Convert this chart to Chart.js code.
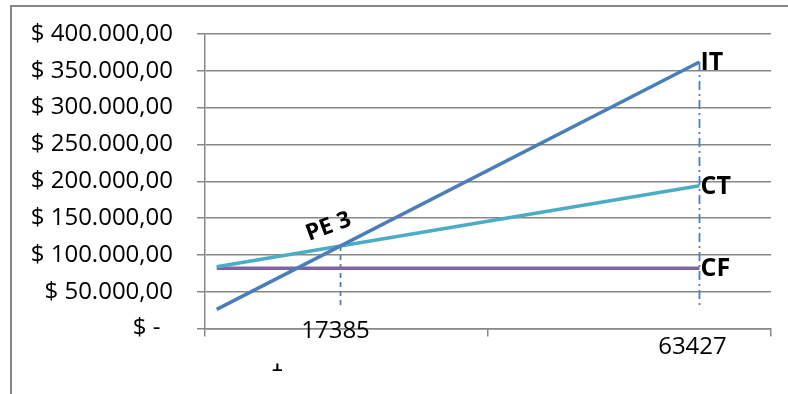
<!DOCTYPE html>
<html>
<head>
<meta charset="utf-8">
<script src="https://cdn.jsdelivr.net/npm/chart.js@4.4.1/dist/chart.umd.min.js"></script>
<style>
  html, body { margin: 0; padding: 0; background: #fff; }
  canvas { display: block; }
</style>
</head>
<body>
<canvas id="chart" width="788" height="394"></canvas>
<script>
// units sold (x) and money (y)
var units = [1500, 63427];
var ingresoTotal = [26000, 362000];   // IT
var costoTotal = [84000, 194000];     // CT
var costoFijo = [82000, 82000];       // CF
var seriesNames = ['IT', 'CT', 'CF'];
var seriesColors = ['#4a7ebb', '#4bacc6', '#8064a2'];

var breakEven = 17385;
var breakEvenValue = 112200;
var breakEvenLabel = 'PE 3';
var xMarks = [17385, 63427];
var dropTops = [112200, 362000];
var dropBottoms = [30000, 29000];
var xAxisTicks = [0, 36300, 72600];

var gray = '#878787';
var font = '"Open Sans", sans-serif';

function money(v) {
    if (v === 0) {
        return '$ -  ';
    }
    return '$ ' + String(v).replace(/\B(?=(\d{3})+(?!\d))/g, '.') + ',00';
}

function pts(xs, ys) {
    return xs.map(function(x, i) {
        return { x: x, y: ys[i] };
    });
}

var seriesData = [ingresoTotal, costoTotal, costoFijo];

var datasets = seriesData.map(function(values, i) {
    return {
        label: seriesNames[i],
        data: pts(units, values),
        borderColor: seriesColors[i],
        borderWidth: 3.5,
        pointRadius: 0,
        tension: 0,
        order: 1
    };
});

// vertical drop lines
datasets.push({
    label: 'pe',
    data: pts([xMarks[0], xMarks[0]], [dropTops[0], dropBottoms[0]]),
    borderColor: '#4a7ebb',
    borderWidth: 1.8,
    borderDash: [5, 4],
    pointRadius: 0,
    order: 2
});
datasets.push({
    label: 'max',
    data: pts([xMarks[1], xMarks[1]], [dropTops[1], dropBottoms[1]]),
    borderColor: '#4a7ebb',
    borderWidth: 1.8,
    borderDash: [9, 4, 2, 4],
    pointRadius: 0,
    order: 2
});

var labelsPlugin = {
    id: 'labels',
    beforeDraw: function(chart) {
        var ctx = chart.ctx;
        ctx.save();
        ctx.strokeStyle = gray;
        ctx.lineWidth = 2;
        ctx.beginPath();
        ctx.moveTo(11, chart.height);
        ctx.lineTo(11, 6);
        ctx.lineTo(chart.width, 6);
        ctx.stroke();
        ctx.restore();
    },
    afterDatasetsDraw: function(chart) {
        var ctx = chart.ctx;
        var xs = chart.scales.x;
        var ys = chart.scales.y;
        ctx.save();
        ctx.fillStyle = '#000';

        // series names at the end of each line
        ctx.font = 'bold 25px ' + font;
        ctx.textAlign = 'left';
        ctx.textBaseline = 'middle';
        seriesData.forEach(function(values, i) {
            var last = values.length - 1;
            ctx.fillText(seriesNames[i], xs.getPixelForValue(units[last]) + 1,
                ys.getPixelForValue(values[last]) + 1);
        });

        // break-even label, tilted
        ctx.save();
        ctx.translate(xs.getPixelForValue(breakEven) - 12, ys.getPixelForValue(breakEvenValue) - 19);
        ctx.rotate(-20 * Math.PI / 180);
        ctx.textAlign = 'center';
        ctx.font = 'bold 23px ' + font;
        ctx.fillText(breakEvenLabel, 0, 0);
        ctx.restore();

        // x marks
        ctx.font = '24px ' + font;
        ctx.textAlign = 'center';
        ctx.textBaseline = 'alphabetic';
        var zero = ys.getPixelForValue(0);
        ctx.fillText(String(xMarks[0]), xs.getPixelForValue(xMarks[0]) - 5, zero + 9);
        ctx.fillText(String(xMarks[1]), xs.getPixelForValue(xMarks[1]) - 7, zero + 25);

        // cut off axis title
        ctx.save();
        ctx.beginPath();
        ctx.rect(0, zero + 35, chart.width, 10);
        ctx.clip();
        ctx.font = '22px "DejaVu Sans", sans-serif';
        ctx.fillText('1', 277, zero + 42);
        ctx.restore();

        ctx.restore();
    }
};

new Chart(document.getElementById('chart'), {
    type: 'line',
    data: { datasets: datasets },
    options: {
        responsive: false,
        animation: false,
        layout: { padding: { top: 34, right: 17, left: 0, bottom: 0 } },
        plugins: {
            legend: { display: false },
            tooltip: { enabled: false }
        },
        scales: {
            x: {
                type: 'linear',
                min: xAxisTicks[0],
                max: xAxisTicks[xAxisTicks.length - 1],
                afterBuildTicks: function(scale) {
                    scale.ticks = xAxisTicks.map(function(v) { return { value: v }; });
                },
                afterFit: function(scale) {
                    scale.height = 65.5;
                    scale.paddingLeft = 0;
                    scale.paddingRight = 0;
                },
                ticks: {
                    callback: function() { return ''; }
                },
                grid: {
                    drawOnChartArea: false,
                    drawTicks: true,
                    tickLength: 8,
                    color: gray,
                    lineWidth: 1.5
                },
                border: { display: true, color: gray, width: 1.5 }
            },
            y: {
                min: 0,
                max: 400000,
                afterFit: function(scale) {
                    scale.width = 205;
                    scale.paddingTop = 0;
                    scale.paddingBottom = 0;
                },
                ticks: {
                    stepSize: 50000,
                    padding: 24,
                    color: '#000',
                    font: { family: font, size: 24 },
                    callback: function(v) { return money(v); }
                },
                grid: {
                    color: gray,
                    lineWidth: 1.5,
                    tickLength: 8
                },
                border: { display: true, color: gray, width: 1.5 }
            }
        }
    },
    plugins: [labelsPlugin]
});
</script>
</body>
</html>
